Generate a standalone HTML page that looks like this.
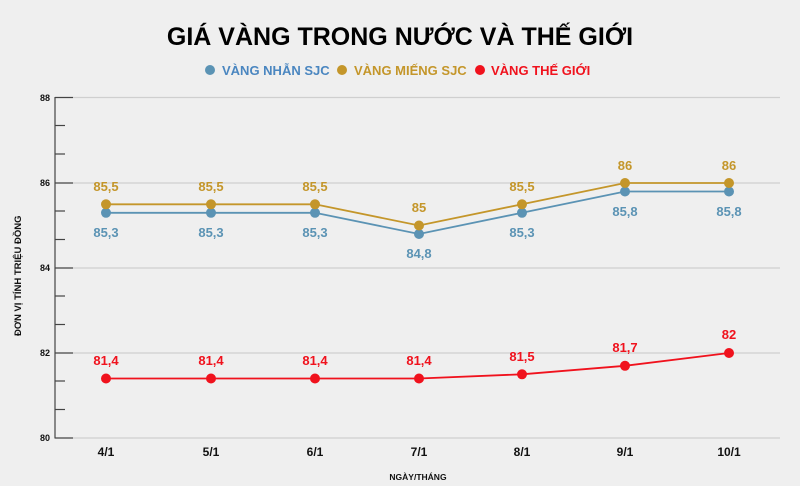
<!DOCTYPE html>
<html><head><meta charset="utf-8"><style>
body{margin:0;background:#efefef;}
svg{display:block;font-family:"Liberation Sans",sans-serif;font-weight:bold;}
</style></head><body>
<svg width="800" height="486" viewBox="0 0 800 486">
<rect width="800" height="486" fill="#efefef"/>
<text x="400" y="45" text-anchor="middle" font-size="25" fill="#000">GIÁ VÀNG TRONG NƯỚC VÀ THẾ GIỚI</text>
<circle cx="210" cy="70" r="5" fill="#5b93b4"/><text x="222" y="75" font-size="13" fill="#4a86c0">VÀNG NHẪN SJC</text>
<circle cx="342" cy="70" r="5" fill="#c4962a"/><text x="354" y="75" font-size="13" fill="#c4962a">VÀNG MIẾNG SJC</text>
<circle cx="480" cy="70" r="5" fill="#f0121d"/><text x="491" y="75" font-size="13" fill="#f0121d">VÀNG THẾ GIỚI</text>
<g stroke="#cfcfcf" stroke-width="1.2">
<line x1="73" y1="97.5" x2="780" y2="97.5"/><line x1="73" y1="183" x2="780" y2="183"/><line x1="73" y1="268" x2="780" y2="268"/><line x1="73" y1="353" x2="780" y2="353"/><line x1="73" y1="438" x2="780" y2="438"/>
</g>
<g stroke="#444" stroke-width="1.2">
<line x1="55" y1="97" x2="55" y2="438.5"/>
<line x1="55" y1="97.5" x2="73" y2="97.5"/><line x1="55" y1="183" x2="73" y2="183"/><line x1="55" y1="268" x2="73" y2="268"/><line x1="55" y1="353" x2="73" y2="353"/><line x1="55" y1="438" x2="73" y2="438"/>
<line x1="55" y1="125.5" x2="65" y2="125.5"/><line x1="55" y1="154" x2="65" y2="154"/><line x1="55" y1="211" x2="65" y2="211"/><line x1="55" y1="239.5" x2="65" y2="239.5"/><line x1="55" y1="296" x2="65" y2="296"/><line x1="55" y1="324.5" x2="65" y2="324.5"/><line x1="55" y1="381" x2="65" y2="381"/><line x1="55" y1="409.5" x2="65" y2="409.5"/>
</g>
<g font-size="9" fill="#111" text-anchor="end">
<text x="50" y="101">88</text><text x="50" y="186">86</text><text x="50" y="271">84</text><text x="50" y="356">82</text><text x="50" y="441">80</text>
</g>
<text transform="translate(21,336) rotate(-90)" font-size="9.5" fill="#111">ĐƠN VỊ TÍNH TRIỆU ĐỒNG</text>
<g font-size="12" fill="#111" text-anchor="middle">
<text x="106" y="456">4/1</text><text x="211" y="456">5/1</text><text x="315" y="456">6/1</text><text x="419" y="456">7/1</text><text x="522" y="456">8/1</text><text x="625" y="456">9/1</text><text x="729" y="456">10/1</text>
</g>
<text x="418" y="480" font-size="8.5" fill="#111" text-anchor="middle">NGÀY/THÁNG</text>
<polyline fill="none" stroke="#5b93b4" stroke-width="1.8" points="106,212.8 211,212.8 315,212.8 419,234 522,212.8 625,191.5 729,191.5"/>
<polyline fill="none" stroke="#c4962a" stroke-width="1.8" points="106,204.3 211,204.3 315,204.3 419,225.5 522,204.3 625,183 729,183"/>
<polyline fill="none" stroke="#f0121d" stroke-width="1.8" points="106,378.5 211,378.5 315,378.5 419,378.5 522,374.3 625,365.8 729,353"/>
<g fill="#5b93b4"><circle cx="106" cy="212.8" r="5"/><circle cx="211" cy="212.8" r="5"/><circle cx="315" cy="212.8" r="5"/><circle cx="419" cy="234" r="5"/><circle cx="522" cy="212.8" r="5"/><circle cx="625" cy="191.5" r="5"/><circle cx="729" cy="191.5" r="5"/></g>
<g fill="#c4962a"><circle cx="106" cy="204.3" r="5"/><circle cx="211" cy="204.3" r="5"/><circle cx="315" cy="204.3" r="5"/><circle cx="419" cy="225.5" r="5"/><circle cx="522" cy="204.3" r="5"/><circle cx="625" cy="183" r="5"/><circle cx="729" cy="183" r="5"/></g>
<g fill="#f0121d"><circle cx="106" cy="378.5" r="5"/><circle cx="211" cy="378.5" r="5"/><circle cx="315" cy="378.5" r="5"/><circle cx="419" cy="378.5" r="5"/><circle cx="522" cy="374.3" r="5"/><circle cx="625" cy="365.8" r="5"/><circle cx="729" cy="353" r="5"/></g>
<g font-size="13" text-anchor="middle" fill="#c4962a">
<text x="106" y="191">85,5</text><text x="211" y="191">85,5</text><text x="315" y="191">85,5</text><text x="419" y="212">85</text><text x="522" y="191">85,5</text><text x="625" y="170">86</text><text x="729" y="170">86</text>
</g>
<g font-size="13" text-anchor="middle" fill="#5b93b4">
<text x="106" y="237">85,3</text><text x="211" y="237">85,3</text><text x="315" y="237">85,3</text><text x="419" y="258">84,8</text><text x="522" y="237">85,3</text><text x="625" y="216">85,8</text><text x="729" y="216">85,8</text>
</g>
<g font-size="13" text-anchor="middle" fill="#f0121d">
<text x="106" y="365">81,4</text><text x="211" y="365">81,4</text><text x="315" y="365">81,4</text><text x="419" y="365">81,4</text><text x="522" y="361">81,5</text><text x="625" y="352">81,7</text><text x="729" y="339">82</text>
</g>
</svg>
</body></html>
